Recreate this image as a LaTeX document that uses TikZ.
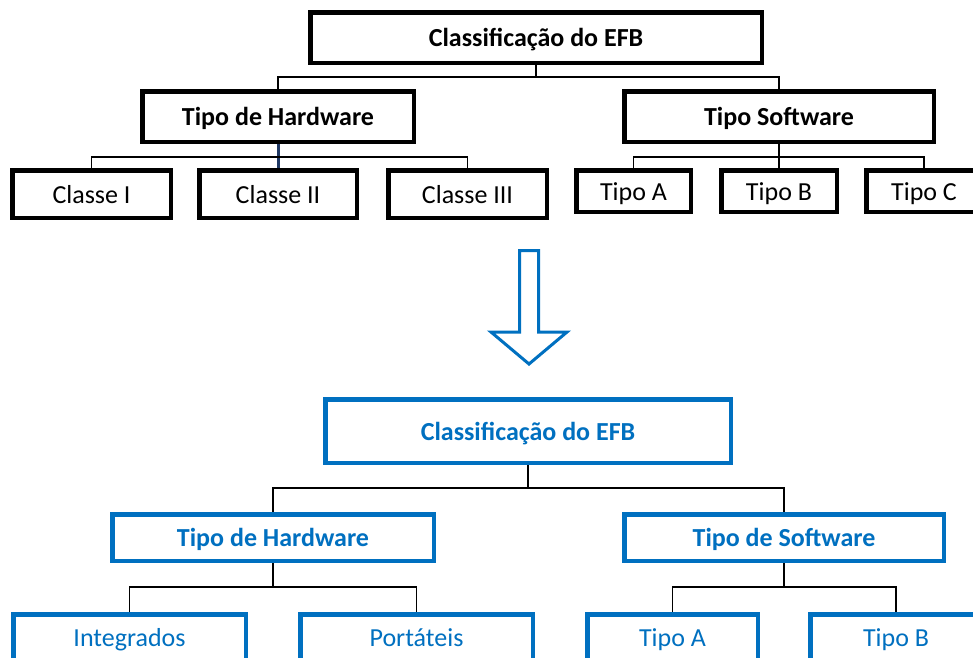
\documentclass[tikz,border=0pt]{standalone}
\usepackage{fontspec}
\setmainfont{Carlito}
\usepackage{xcolor}
\definecolor{efbblue}{HTML}{0070C0}
\definecolor{efbnavy}{HTML}{1F3864}

\begin{document}
\begin{tikzpicture}[x=1pt,y=-1pt,
	box/.style={draw, rectangle, inner sep=0pt, line width=4.5pt, fill=white, text height=19pt, text depth=1pt, font=\fontsize{26}{31}\selectfont},
	headbox/.style={box, font=\fontsize{26}{31}\selectfont\bfseries},
	bluebox/.style={box, draw=efbblue, text=efbblue},
	blueheadbox/.style={headbox, draw=efbblue, text=efbblue},
	conn/.style={line width=1.6pt}]
	\useasboundingbox (0,0) rectangle (973,657);
	% antes
	\node[headbox, minimum width=451.5pt, minimum height=50.5pt] (root1) at (536,37.5) {Classificação do EFB};
	\node[headbox, minimum width=271.5pt, minimum height=50.5pt] (hw1) at (278,116.5) {Tipo de Hardware};
	\node[headbox, minimum width=309.5pt, minimum height=50.5pt] (sw1) at (779,116.5) {Tipo Software};
	\foreach \name/\cx/\bw/\txt in {c1/91.5/163/Classe I, c2/278/162/Classe II, c3/467.5/163/Classe III}
	{
		\node[box, minimum width=\bw pt-4.5pt, minimum height=47.5pt] (\name) at (\cx,194) {\txt};
	}
	\foreach \name/\cx/\bw/\txt in {t1/633.5/119/Tipo A, t2/779/120/Tipo B, t3/924/120/Tipo C}
	{
		\node[box, minimum width=\bw pt-4.5pt, minimum height=41.5pt] (\name) at (\cx,191) {\txt};
	}
	\coordinate (j0) at (536,77);
	\coordinate (j1) at (278,157);
	\coordinate (j2) at (779,157);
	\draw[conn] (root1.south) -- (j0);
	\draw[conn] (hw1.north) |- (j0) -| (sw1.north);
	\draw[conn, efbnavy, line width=3pt] (hw1.south) -- (c2.north);
	\draw[conn] (c1.north) |- (j1) -| (c3.north);
	\draw[conn] (sw1.south) -- (t2.north);
	\draw[conn] (t1.north) |- (j2) -| (t3.north);
	% seta
	\draw[efbblue, line width=3pt] (519.5,250.5) -- (538.5,250.5) -- (538.5,332) -- (567,332)
		-- (529,364) -- (491,332) -- (519.5,332) -- cycle;
	% depois
	\node[blueheadbox, minimum width=405.5pt, minimum height=63.5pt] (root2) at (528,431) {Classificação do EFB};
	\node[blueheadbox, minimum width=321.5pt, minimum height=46.5pt] (hw2) at (273,537.5) {Tipo de Hardware};
	\node[blueheadbox, minimum width=319.5pt, minimum height=46.5pt] (sw2) at (784,537.5) {Tipo de Software};
	\foreach \name/\cx/\bw/\txt in {d1/129.5/237/Integrados, d2/416.5/237/Portáteis, d3/672.5/175/Tipo A, d4/896/176/Tipo B}
	{
		\node[bluebox, minimum width=\bw pt-4.5pt, minimum height=45.5pt] (\name) at (\cx,637) {\txt};
	}
	\coordinate (k0) at (528,488);
	\coordinate (k1) at (273,587);
	\coordinate (k2) at (784,587);
	\draw[conn] (root2.south) -- (k0);
	\draw[conn] (hw2.north) |- (k0) -| (sw2.north);
	\draw[conn] (hw2.south) -- (k1);
	\draw[conn] (d1.north) |- (k1) -| (d2.north);
	\draw[conn] (sw2.south) -- (k2);
	\draw[conn] (d3.north) |- (k2) -| (d4.north);
\end{tikzpicture}
\end{document}
